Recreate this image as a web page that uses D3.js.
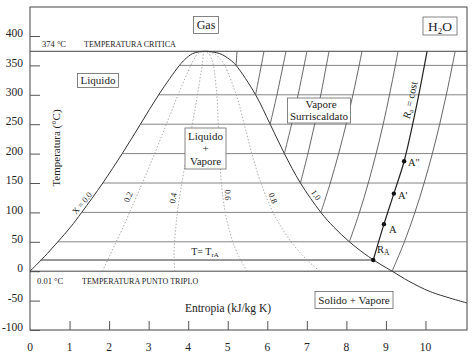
<!DOCTYPE html>
<html><head><meta charset="utf-8">
<script src="https://cdn.jsdelivr.net/npm/d3@7"></script>
<style>
body{margin:0;background:#fff}
svg{display:block}
text{font-family:"Liberation Serif","Times New Roman",serif;fill:#222}
</style>
</head><body>
<svg id="c" width="472" height="355"></svg>
<script>
// ---- data ----
const xTicks = [0,1,2,3,4,5,6,7,8,9,10];
const yTicks = [400,350,300,250,200,150,100,50,0,-50,-100];

// saturation dome: temperature (°C), entropy of saturated liquid / vapour
const satT    = [0.01, 10, 20, 30, 50, 75, 100, 150, 200, 250, 300, 350, 360, 370, 374];
const satLiqS = [0, 0.1511, 0.2966, 0.4369, 0.7038, 1.0259, 1.3069, 1.8418, 2.3309, 2.7927, 3.2534, 3.7784, 3.9147, 4.1106, 4.41];
const satVapS = [9.1562, 8.9008, 8.6671, 8.4520, 8.0763, 7.6824, 7.3549, 6.8379, 6.4323, 6.0730, 5.7045, 5.2112, 5.0526, 4.7971, 4.41];
// sublimation (solid + vapour) boundary below the triple point
const sublT = [0.01, -17, -35, -54];
const sublS = [9.1562, 9.58, 10.13, 11.05];

// constant-quality lines (entropy at each satT)
const q02 = [1.8312, 1.9010, 1.9707, 2.0399, 2.1783, 2.3572, 2.5165, 2.8410, 3.1512, 3.4488, 3.7436, 4.0650, 4.1423, 4.2479, 4.41];
const q04 = [3.6625, 3.6510, 3.6448, 3.6429, 3.6528, 3.6885, 3.7261, 3.8402, 3.9715, 4.1048, 4.2338, 4.3515, 4.3699, 4.3852, 4.41];
const q06 = [5.4937, 5.4009, 5.3189, 5.2460, 5.1273, 5.0198, 4.9357, 4.8395, 4.7917, 4.7609, 4.7241, 4.6381, 4.5974, 4.5225, 4.41];
const q08 = [7.3250, 7.1509, 6.9930, 6.8490, 6.6018, 6.3511, 6.1453, 5.8387, 5.6120, 5.4169, 5.2143, 4.9246, 4.8250, 4.6598, 4.41];
const qualityLabels = ["0.2","0.4","0.6","0.8"];

// isotherm/isobar horizontals inside and right of the dome
const gridT      = [50, 100, 150, 200, 250, 300, 350];
const gridStartS = [0.7038, 1.3069, 1.8418, 2.3309, 2.7927, 3.2534, 3.7784];

// superheated isobars (temperature, entropy)
const iso0T   = [0.01, 50, 100, 150, 200, 250, 300, 350, 374];
const iso0S   = [9.156, 9.467, 9.733, 9.966, 10.174, 10.359, 10.527, 10.680, 10.751];
const iso50T  = [50, 100, 150, 200, 250, 300, 350, 374];
const iso50S  = [8.076, 8.331, 8.554, 8.752, 8.931, 9.090, 9.239, 9.306];
const iso100T = [100, 150, 200, 250, 300, 350, 374];
const iso100S = [7.355, 7.593, 7.804, 7.994, 8.166, 8.323, 8.395];
const iso150T = [150, 200, 250, 300, 350, 374];
const iso150S = [6.838, 7.028, 7.199, 7.353, 7.494, 7.561];
const iso200T = [200, 250, 300, 350, 374];
const iso200S = [6.432, 6.615, 6.780, 6.931, 7.002];
const iso250T = [250, 300, 350, 374];
const iso250S = [6.073, 6.244, 6.400, 6.473];
const iso300T = [300, 350, 374];
const iso300S = [5.7045, 5.849, 5.917];
const iso350T = [350, 374];
const iso350S = [5.211, 5.235];

// Ra = cost line with points R_A, A, A', A''
const raT = [19, 80, 132, 187, 280, 374];
const raS = [8.68, 8.95, 9.20, 9.46, 9.77, 10.04];
const raPointIdx = [0,1,2,3];
const tRA = 19, tRAStartS = 0.27;

const tCrit = 374, tTriple = 0.01;

// ---- drawing ----
const svg = d3.select("#c");
const x = d3.scaleLinear().domain([0, 11.05]).range([30, 467]);
const y = d3.scaleLinear().domain([-100, 400]).range([330, 36]);
const line = d3.line().x(d=>x(d[0])).y(d=>y(d[1])).curve(d3.curveCatmullRom.alpha(0.5));
const zip = (s,t)=>s.map((v,i)=>[v,t[i]]);

// frame
svg.append("rect").attr("x",30).attr("y",7).attr("width",437).attr("height",323)
  .attr("fill","none").attr("stroke","#444").attr("stroke-width",1);

// axes
const gy = svg.append("g").attr("transform","translate(30,0)")
  .call(d3.axisRight(y).tickValues(yTicks).tickSize(10).tickFormat(""));
gy.select(".domain").remove();
gy.selectAll("line").attr("stroke","#555");
svg.selectAll(".ylab").data(yTicks).enter().append("text")
  .attr("x",23).attr("y",d=>y(d)).attr("dy","0.1em").attr("text-anchor","end")
  .attr("font-size",11.5).text(d=>d);
const gx = svg.append("g").attr("transform","translate(0,330)")
  .call(d3.axisTop(x).tickValues(xTicks.slice(1)).tickSize(9).tickFormat(""));
gx.select(".domain").remove();
gx.selectAll("line").attr("stroke","#555");
svg.selectAll(".xlab").data(xTicks).enter().append("text")
  .attr("x",d=>x(d)).attr("y",351).attr("text-anchor","middle")
  .attr("font-size",11.5).text(d=>d);

// horizontal lines
gridT.forEach((t,i)=>{
  svg.append("line").attr("x1",x(gridStartS[i])).attr("x2",467)
    .attr("y1",y(t)).attr("y2",y(t)).attr("stroke","#777").attr("stroke-width",0.9);
});
svg.append("line").attr("x1",30).attr("x2",467).attr("y1",y(tCrit)).attr("y2",y(tCrit))
  .attr("stroke","#444").attr("stroke-width",1);
svg.append("line").attr("x1",30).attr("x2",467).attr("y1",y(tTriple)).attr("y2",y(tTriple))
  .attr("stroke","#444").attr("stroke-width",1);
svg.append("line").attr("x1",x(tRAStartS)).attr("x2",x(raS[0])).attr("y1",y(tRA)).attr("y2",y(tRA))
  .attr("stroke","#333").attr("stroke-width",1);

// quality lines
[q02,q04,q06,q08].forEach(q=>{
  svg.append("path").attr("d",line(zip(q,satT))).attr("fill","none")
    .attr("stroke","#999").attr("stroke-width",0.8).attr("stroke-dasharray","1.5,1.8");
});

// dome
const dome = zip(satLiqS,satT)
  .concat(zip(satVapS,satT).reverse().slice(1))
  .concat(zip(sublS,sublT).slice(1));
svg.append("path").attr("d",line(dome)).attr("fill","none").attr("stroke","#333").attr("stroke-width",1);

// isobars
[[iso0S,iso0T],[iso50S,iso50T],[iso100S,iso100T],[iso150S,iso150T],[iso200S,iso200T],
 [iso250S,iso250T],[iso300S,iso300T],[iso350S,iso350T]].forEach(([s,t])=>{
  svg.append("path").attr("d",line(zip(s,t))).attr("fill","none").attr("stroke","#555").attr("stroke-width",0.9);
});
svg.append("path").attr("d",line(zip(raS,raT))).attr("fill","none").attr("stroke","#222").attr("stroke-width",1.2);
raPointIdx.forEach(i=>{
  svg.append("circle").attr("cx",x(raS[i])).attr("cy",y(raT[i])).attr("r",2.2).attr("fill","#111");
});

// labels helpers
function box(cx,cy,w,h){
  svg.append("rect").attr("x",cx-w/2).attr("y",cy-h/2).attr("width",w).attr("height",h)
    .attr("fill","#fff").attr("stroke","#666").attr("stroke-width",0.8);
}
function txt(cx,cy,s,fs,rot,anchor){
  return svg.append("text").attr("transform",`translate(${cx},${cy}) rotate(${rot||0})`)
    .attr("text-anchor",anchor||"middle").attr("dy","0.35em").attr("font-size",fs).text(s);
}

box(206,25,25,17); txt(206,25,"Gas",12);
box(440,26,34,18);
const h2o = svg.append("text").attr("x",440).attr("y",26).attr("dy","0.35em").attr("text-anchor","middle").attr("font-size",13.5);
h2o.append("tspan").text("H");
h2o.append("tspan").attr("font-size",9).attr("dy",3).text("2");
h2o.append("tspan").attr("dy",-3).text("O");

txt(42,44,"374 °C",8.5,0,"start");
txt(84,44,"TEMPERATURA CRITICA",8,0,"start");
txt(37,281,"0.01 °C",8.5,0,"start");
txt(82,281,"TEMPERATURA PUNTO TRIPLO",8,0,"start");

box(98,80.5,41,14); txt(98,80.5,"Liquido",11);
box(205.5,148.5,41,41);
txt(205.5,136,"Liquido",11); txt(205.5,148.5,"+",11); txt(205.5,161,"Vapore",11);
box(319,110.5,63,25); txt(321,104,"Vapore",11); txt(319,116.5,"Surriscaldato",11);
box(354,300,78,17); txt(354,300,"Solido + Vapore",11);

txt(56,148,"Temperatura (°C)",11,-90);
txt(228,308,"Entropia (kJ/kg K)",11.5);

txt(82,203,"X = 0.0",8.5,-50);
const qPos = [[128,197,-67],[173,198,-81],[228,195,88],[273,198,67]];
qualityLabels.forEach((l,i)=>txt(qPos[i][0],qPos[i][1],l,8.5,qPos[i][2]));
txt(316,195,"1.0",8.5,55);

// T = T_rA
const tr = svg.append("text").attr("x",205).attr("y",251).attr("dy","0.35em").attr("text-anchor","middle").attr("font-size",10);
tr.append("tspan").text("T= T");
tr.append("tspan").attr("font-size",7).attr("dy",2).text("rA");

// R_A and A labels
const ra = svg.append("text").attr("x",377).attr("y",249).attr("dy","0.35em").attr("font-size",10.5);
ra.append("tspan").text("R");
ra.append("tspan").attr("font-size",7.5).attr("dy",2.5).text("A");
txt(389,229,"A",10.5,0,"start");
txt(398,195,"A'",10.5,0,"start");
txt(408,162,"A\"",10.5,0,"start");

const rc = svg.append("text").attr("transform","translate(410,100) rotate(-78)")
  .attr("text-anchor","middle").attr("dy","0.35em").attr("font-size",10.5);
rc.append("tspan").attr("font-style","italic").text("R");
rc.append("tspan").attr("font-size",7).attr("dy",2).text("a");
rc.append("tspan").attr("dy",-2).text(" = cost");
</script>
</body></html>
